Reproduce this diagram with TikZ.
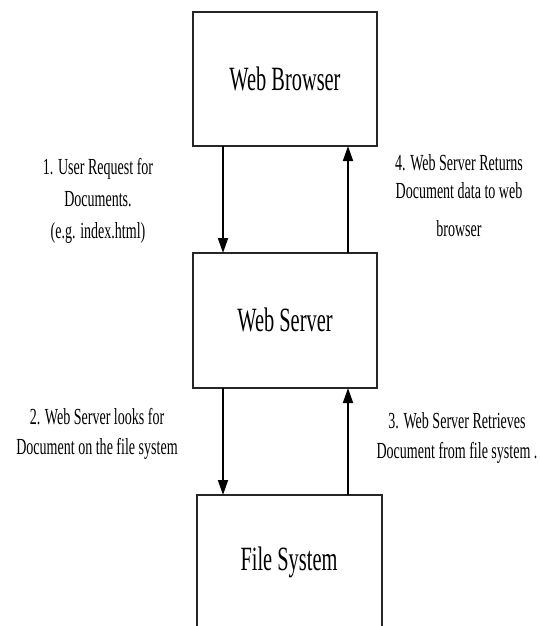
\documentclass[tikz,border=0pt]{standalone}
\usepackage{fontspec}
\usetikzlibrary{arrows.meta}
\setmainfont{Liberation Serif}
\newfontfamily\boxfont[FakeStretch=0.6]{Liberation Serif}
\newfontfamily\labfont[FakeStretch=0.61]{Liberation Serif}
\tikzset{
  block/.style={draw=black!85, line width=1.1pt, fill=white, inner sep=0pt},
  blocktext/.style={font=\boxfont\fontsize{34}{40}\selectfont, inner sep=0pt},
  steplabel/.style={font=\labfont\fontsize{23}{30}\selectfont, align=center, inner sep=0pt},
  flow/.style={line width=1.8pt, -{Triangle[length=15pt,width=10pt]}}
}
\begin{document}
\begin{tikzpicture}[x=1pt,y=-1pt]
  \useasboundingbox (0,0) rectangle (539,626);
  \clip (0,0) rectangle (539,626);

  % the three tiers
  \draw[block] (193,12) rectangle (377,146);
  \draw[block] (193,253) rectangle (377,388);
  \draw[block] (197,495) rectangle (382,640);
  \node[blocktext] (browser) at (285,79) {Web Browser};
  \node[blocktext] (server) at (285,320) {Web Server};
  \node[blocktext] (files) at (289,562) {File System};

  % anchor points on the box edges
  \coordinate (bL) at (223,146); \coordinate (bR) at (348,146);
  \coordinate (sLt) at (223,253); \coordinate (sRt) at (348,253);
  \coordinate (sLb) at (223,388); \coordinate (sRb) at (348,388);
  \coordinate (fL) at (223,495); \coordinate (fR) at (348,495);

  % request / response arrows
  \draw[flow] (bL) -- (sLt);
  \draw[flow] (sRt) -- (bR);
  \draw[flow] (sLb) -- (fL);
  \draw[flow] (fR) -- (sRb);

  % step descriptions
  \node[steplabel, font=\labfont\fontsize{23}{32}\selectfont] (s1) at (98,201)
    {1. User Request for\\Documents.\\(e.g. index.html)};
  \node[steplabel, font=\labfont\fontsize{23}{28}\selectfont] (s4) at (459,196)
    {4. Web Server Returns\\Document data to web\\[10pt]browser};
  \node[steplabel] (s2) at (97,434)
    {2. Web Server looks for\\Document on the file system};
  \node[steplabel] (s3) at (457,438)
    {3. Web Server Retrieves\\Document from file system .};
\end{tikzpicture}
\end{document}
